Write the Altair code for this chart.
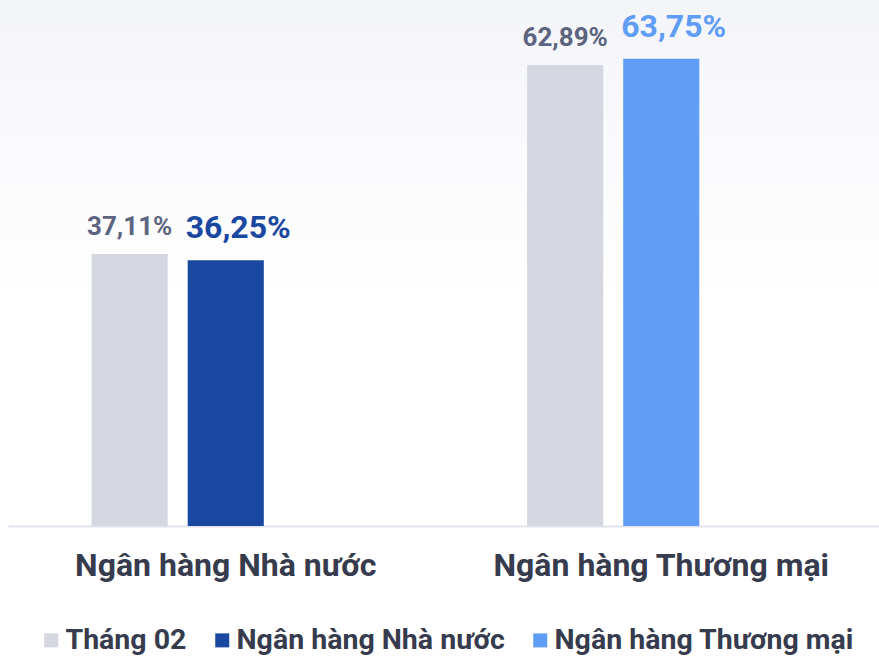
import altair as alt
import pandas as pd

groups = ["Ngân hàng Nhà nước", "Ngân hàng Nhà nước", "Ngân hàng Thương mại", "Ngân hàng Thương mại"]
series = ["Tháng 02", "Ngân hàng Nhà nước", "Tháng 02", "Ngân hàng Thương mại"]
values = [37.11, 36.25, 62.89, 63.75]
labels = ["37,11%", "36,25%", "62,89%", "63,75%"]

group_order = ["Ngân hàng Nhà nước", "Ngân hàng Thương mại"]
series_order = ["Tháng 02", "Ngân hàng Nhà nước", "Ngân hàng Thương mại"]
series_colors = ["#d4d7df", "#1a47a0", "#609df6"]

df = pd.DataFrame({"group": groups, "series": series, "value": values, "label": labels})

FONT = "Roboto"
W, H = 871, 526

color_enc = alt.Color(
    "series:N",
    scale=alt.Scale(domain=series_order, range=series_colors),
    legend=alt.Legend(title=None),
)
x_enc = alt.X(
    "group:N",
    sort=group_order,
    scale=alt.Scale(paddingInner=0, paddingOuter=0),
    axis=alt.Axis(title=None, labelAngle=0),
)
xo_enc = alt.XOffset("slot:O", scale=alt.Scale(domain=[0, 1, 2], paddingInner=0.208, paddingOuter=0.87))
y_enc = alt.Y("value:Q", scale=alt.Scale(domain=[0, 71.75], nice=False, zero=True), axis=None)

base = alt.Chart(df).transform_calculate(slot="datum.series == 'Tháng 02' ? 0 : 1")

bg = alt.Chart(pd.DataFrame({"k": [0]})).mark_rect(
    color=alt.Gradient(
        gradient="linear",
        stops=[alt.GradientStop(color="#f4f5f9", offset=0), alt.GradientStop(color="#ffffff", offset=1)],
        x1=0, x2=0, y1=0, y2=1,
    )
).encode(x=alt.value(-8), x2=alt.value(W), y=alt.value(0), y2=alt.value(300))

bars = base.mark_bar().encode(x=x_enc, xOffset=xo_enc, y=y_enc, color=color_enc)

text_base = base.transform_filter("datum.series == 'Tháng 02'").mark_text(
    baseline="alphabetic", dy=-19, fontSize=26, fontWeight="bold", color="#5c6480", font=FONT
).encode(x=x_enc, xOffset=xo_enc, y=y_enc, text="label:N")

text_hi = base.transform_filter("datum.series != 'Tháng 02'").mark_text(
    baseline="alphabetic", align="left", dx=-40, dy=-22, fontSize=32, fontWeight="bold", font=FONT
).encode(x=x_enc, xOffset=xo_enc, y=y_enc, text="label:N", color=color_enc)

chart = alt.layer(bg, bars, text_base, text_hi).properties(
    width=W, height=H,
    padding={"left": 8, "top": 0, "right": 0, "bottom": 131},
    autosize=alt.AutoSizeParams(type="none"),
    background="#ffffff",
).configure_view(stroke=None).configure_axis(
    domainColor="#e2e4eb", domainWidth=2, ticks=False, tickSize=0, grid=False,
    labelFont=FONT, labelFontSize=32, labelFontWeight="bold", labelColor="#363b4d",
    labelPadding=49, labelBaseline="alphabetic", labelLimit=600,
).configure_legend(
    orient="none", legendX=27, legendY=626, direction="horizontal",
    symbolType="square", symbolSize=196, symbolStrokeWidth=0, symbolOffset=2,
    labelFont=FONT, labelFontSize=28.5, labelFontWeight="bold", labelColor="#363b4d",
    labelOffset=0, columnPadding=19, padding=0, labelLimit=600,
)

chart.save("out.html", embed_options={"renderer": "svg", "actions": False})
